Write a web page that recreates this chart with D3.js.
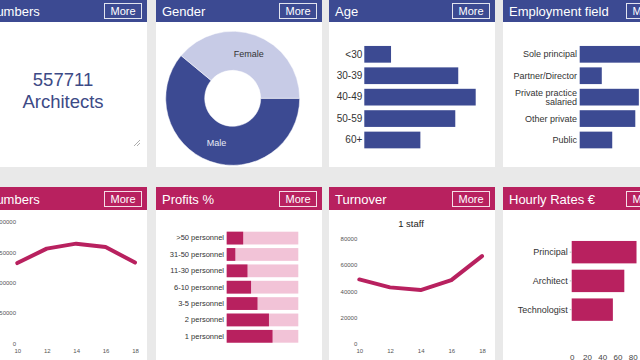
<!DOCTYPE html>
<html>
<head>
<meta charset="UTF-8">
<title>Architects dashboard</title>
<style>
  body { margin: 0; background: #e9e9e9; }
  svg { display: block; font-family: "Liberation Sans", Arial, sans-serif; }
</style>
</head>
<body>
<script src="https://d3js.org/d3.v7.min.js"></script>
<script>
var width = 640, height = 360;
var blue = "#3c4a92", paleBlue = "#c7cbe6", pink = "#b8215f", palePink = "#f2c3d7";

// ---- data ----
var panelTitles = ["Numbers", "Gender", "Age", "Employment field", "Numbers", "Profits %", "Turnover", "Hourly Rates €"];
var totalArchitects = 557711;
var genderLabels = ["Male", "Female"];
var genderShare = [61, 39];
var ageGroups = ["<30", "30-39", "40-49", "50-59", "60+"];
var ageShare = [7.2, 25.3, 30, 24.5, 15.1];
var fields = ["Sole principal", "Partner/Director", "Private practice salaried", "Other private", "Public"];
var fieldShare = [35, 11.2, 30, 28.2, 16.5];
var years = [10, 12, 14, 16, 18];
var architectNumbers = [132000, 155700, 163900, 158400, 132800];
var numberTicks = [0, 50000, 100000, 150000, 200000];
var staffGroups = [">50 personnel", "31-50 personnel", "11-30 personnel", "6-10 personnel", "3-5 personnel", "2 personnel", "1 personnel"];
var profitShare = [23, 12, 29, 34, 43, 59, 64];
var turnover = [49000, 42900, 40800, 48500, 66900];
var turnoverTicks = [0, 20000, 40000, 60000, 80000];
var roles = ["Principal", "Architect", "Technologist"];
var hourlyRate = [85, 69, 54];
var rateTicks = [0, 20, 40, 60, 80, 100];

// ---- layout ----
var cols = [-19, 156, 329, 503];
var panelW = 166;
var rows = [{y: -1, h: 168, head: 23}, {y: 187, h: 180, head: 23}];

var svg = d3.select("body").append("svg")
    .attr("width", width)
    .attr("height", height);

svg.append("rect").attr("width", width).attr("height", height).attr("fill", "#e9e9e9");

function panel(col, row, title, color) {
  var r = rows[row];
  var g = svg.append("g").attr("transform", "translate(" + cols[col] + "," + r.y + ")");
  g.append("rect").attr("width", panelW).attr("height", r.h).attr("fill", "#fff");
  g.append("rect").attr("width", panelW).attr("height", r.head).attr("fill", color);
  g.append("text").attr("x", 6).attr("y", 17).attr("fill", "#fff").attr("font-size", 13).text(title);
  g.append("rect")
      .attr("x", panelW - 42.5).attr("y", 4.5)
      .attr("width", 37).attr("height", 15)
      .attr("fill", "none").attr("stroke", "#fff").attr("stroke-opacity", 0.85);
  g.append("text")
      .attr("x", panelW - 24).attr("y", 16)
      .attr("text-anchor", "middle").attr("fill", "#fff").attr("font-size", 11)
      .text("More");
  return g;
}

function styleAxis(a, size, color) {
  a.select(".domain").remove();
  a.selectAll("text").attr("font-size", size).attr("fill", color).attr("font-family", null);
}

// ---- top row ----
// numbers
var p1 = panel(0, 0, panelTitles[0], blue);
p1.append("text").attr("x", 82).attr("y", 87).attr("text-anchor", "middle")
    .attr("font-size", 18.5).attr("fill", "#3d4a86").text(totalArchitects);
p1.append("text").attr("x", 82).attr("y", 109).attr("text-anchor", "middle")
    .attr("font-size", 18.5).attr("fill", "#3d4a86").text("Architects");
// textarea grip
p1.append("path").attr("d", "M153,147 L159,141 M156,147 L159,144")
    .attr("stroke", "#999").attr("stroke-width", 0.8).attr("fill", "none");

// gender donut
var p2 = panel(1, 0, panelTitles[1], blue);
var pie = d3.pie().sort(null).startAngle(Math.PI / 2).endAngle(Math.PI / 2 + 2 * Math.PI);
var arc = d3.arc().innerRadius(28).outerRadius(67);
var donut = p2.append("g").attr("transform", "translate(76.7,99.3)");
var slices = pie(genderShare);
donut.selectAll("path").data(slices).enter().append("path")
    .attr("d", arc)
    .attr("fill", function(d, i) { return i == 0 ? blue : paleBlue; })
    .attr("stroke", "#fff").attr("stroke-width", 0.5);
donut.selectAll("text").data(slices).enter().append("text")
    .attr("transform", function(d) { return "translate(" + arc.centroid(d) + ")"; })
    .attr("dy", "0.35em").attr("text-anchor", "middle").attr("font-size", 9)
    .attr("fill", function(d, i) { return i == 0 ? "#e8eaf5" : "#333"; })
    .text(function(d, i) { return genderLabels[i]; });

// age
var p3 = panel(2, 0, panelTitles[2], blue);
var yAge = d3.scaleBand().domain(ageGroups).range([44.6, 151.7]).paddingInner(0.22).paddingOuter(0.11);
var xAge = d3.scaleLinear().domain([0, d3.max(ageShare)]).range([0, 111.4]);
p3.selectAll(".bar").data(ageShare).enter().append("rect")
    .attr("x", 35.3)
    .attr("y", function(d, i) { return yAge(ageGroups[i]); })
    .attr("width", xAge)
    .attr("height", yAge.bandwidth())
    .attr("fill", blue);
var ageAxis = p3.append("g").attr("transform", "translate(35.3,0)")
    .call(d3.axisLeft(yAge).tickSize(0).tickPadding(2));
styleAxis(ageAxis, 10, "#333");

// employment field
var p4 = panel(3, 0, panelTitles[3], blue);
var xField = d3.scaleLinear().domain([0, d3.max(fieldShare)]).range([0, 69]);
var yField = yAge.copy().domain(fields);
p4.selectAll(".bar").data(fieldShare).enter().append("rect")
    .attr("x", 76.7)
    .attr("y", function(d, i) { return yField(fields[i]); })
    .attr("width", xField)
    .attr("height", yField.bandwidth())
    .attr("fill", blue);
function wrapLabel(s) {
  var words = s.split(" "), lines = [""];
  words.forEach(function(w) {
    var cur = lines[lines.length - 1];
    if (cur && (cur + " " + w).length > 16) lines.push(w);
    else lines[lines.length - 1] = cur ? cur + " " + w : w;
  });
  return lines;
}
p4.selectAll(".lbl").data(fields).enter().append("text")
    .attr("font-size", 9).attr("fill", "#333").attr("text-anchor", "end")
    .each(function(d) {
      var lines = wrapLabel(d);
      var mid = yField(d) + yField.bandwidth() / 2;
      var t = d3.select(this);
      lines.forEach(function(l, k) {
        t.append("tspan").attr("x", 74)
            .attr("y", mid + (k - (lines.length - 1) / 2) * 8.4)
            .attr("dy", "0.35em").text(l);
      });
    });

// ---- bottom row ----
// numbers over time
var p5 = panel(0, 1, panelTitles[4], pink);
var xN = d3.scaleLinear().domain([10, 18]).range([36.3, 154]);
var yN = d3.scaleLinear().domain([0, 200000]).range([156.3, 34.7]);
var yNAxis = p5.append("g").attr("transform", "translate(35,0)")
    .call(d3.axisLeft(yN).tickValues(numberTicks).tickSize(0).tickPadding(0).tickFormat(d3.format("d")));
styleAxis(yNAxis, 6, "#555");
var xNAxis = p5.append("g").attr("transform", "translate(0,159)")
    .call(d3.axisBottom(xN).tickValues(years).tickSize(0).tickPadding(3));
styleAxis(xNAxis, 6, "#555");
p5.append("path").datum(architectNumbers)
    .attr("d", d3.line().x(function(d, i) { return xN(years[i]); }).y(function(d) { return yN(d); }))
    .attr("fill", "none").attr("stroke", pink).attr("stroke-width", 4)
    .attr("stroke-linejoin", "round").attr("stroke-linecap", "round");

// profits
var p6 = panel(1, 1, panelTitles[5], pink);
var yP = d3.scaleBand().domain(staffGroups).range([42.9, 157.5]).paddingInner(0.22).paddingOuter(0.11);
var xP = d3.scaleLinear().domain([0, 100]).range([0, 71.6]);
p6.selectAll(".bg").data(profitShare).enter().append("rect")
    .attr("x", 70.7)
    .attr("y", function(d, i) { return yP(staffGroups[i]); })
    .attr("width", xP(100))
    .attr("height", yP.bandwidth())
    .attr("fill", palePink);
p6.selectAll(".fg").data(profitShare).enter().append("rect")
    .attr("x", 70.7)
    .attr("y", function(d, i) { return yP(staffGroups[i]); })
    .attr("width", xP)
    .attr("height", yP.bandwidth())
    .attr("fill", pink);
var pAxis = p6.append("g").attr("transform", "translate(70.7,0)")
    .call(d3.axisLeft(yP).tickSize(0).tickPadding(2.7));
styleAxis(pAxis, 7.5, "#333");

// turnover
var p7 = panel(2, 1, panelTitles[6], pink);
p7.append("text").attr("x", 82).attr("y", 39.7).attr("text-anchor", "middle")
    .attr("font-size", 9.5).attr("fill", "#222").text("1 staff");
var xT = d3.scaleLinear().domain([10, 18]).range([30.3, 153]);
var yT = d3.scaleLinear().domain([0, 80000]).range([156.3, 52]);
var yTAxis = p7.append("g").attr("transform", "translate(28.3,0)")
    .call(d3.axisLeft(yT).tickValues(turnoverTicks).tickSize(0).tickPadding(0).tickFormat(d3.format("d")));
styleAxis(yTAxis, 6, "#555");
var xTAxis = p7.append("g").attr("transform", "translate(0,159)")
    .call(d3.axisBottom(xT).tickValues(years).tickSize(0).tickPadding(3));
styleAxis(xTAxis, 6, "#555");
p7.append("path").datum(turnover)
    .attr("d", d3.line().x(function(d, i) { return xT(years[i]); }).y(function(d) { return yT(d); }))
    .attr("fill", "none").attr("stroke", pink).attr("stroke-width", 4)
    .attr("stroke-linejoin", "round").attr("stroke-linecap", "round");

// hourly rates
var p8 = panel(3, 1, panelTitles[7], pink);
var yR = d3.scaleBand().domain(roles).range([50.8, 137]).paddingInner(0.22).paddingOuter(0.11);
var xR = d3.scaleLinear().domain([0, 100]).range([68.7, 144.95]);
p8.selectAll(".bar").data(hourlyRate).enter().append("rect")
    .attr("x", xR(0))
    .attr("y", function(d, i) { return yR(roles[i]); })
    .attr("width", function(d) { return xR(d) - xR(0); })
    .attr("height", yR.bandwidth())
    .attr("fill", pink);
var rAxis = p8.append("g").attr("transform", "translate(" + xR(0) + ",0)")
    .call(d3.axisLeft(yR).tickSize(2).tickPadding(2));
styleAxis(rAxis, 9, "#333");
rAxis.selectAll("line").attr("stroke", "#bbb");
var rxAxis = p8.append("g").attr("transform", "translate(0,164)")
    .call(d3.axisBottom(xR).tickValues(rateTicks).tickSize(0).tickPadding(3));
styleAxis(rxAxis, 8, "#444");
</script>
</body>
</html>
